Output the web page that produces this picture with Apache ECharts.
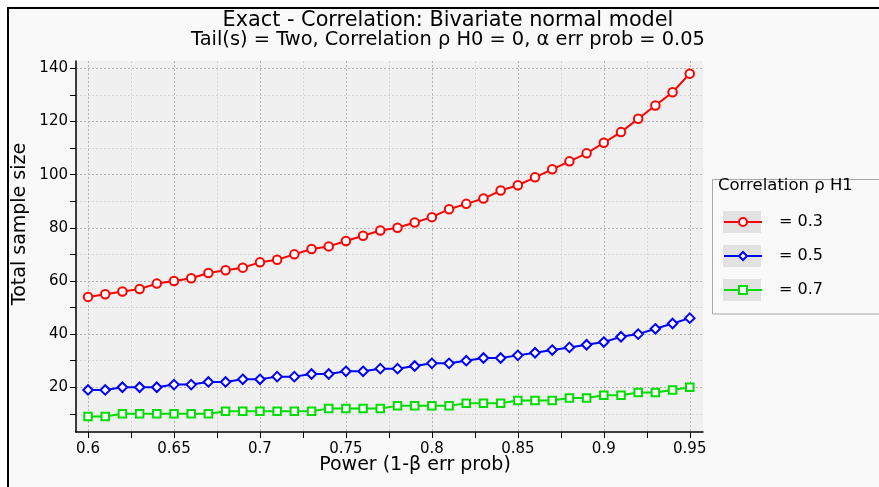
<!DOCTYPE html>
<html>
<head>
<meta charset="utf-8">
<script src="https://cdn.jsdelivr.net/npm/echarts@6/dist/echarts.min.js"></script>
<style>
html,body{margin:0;padding:0;background:#fff;}
#chart{width:879px;height:487px;}
</style>
</head>
<body>
<div id="chart"></div>
<script>
// ---- data ----
var powers = [0.60,0.61,0.62,0.63,0.64,0.65,0.66,0.67,0.68,0.69,0.70,0.71,0.72,0.73,0.74,0.75,0.76,0.77,0.78,0.79,0.80,0.81,0.82,0.83,0.84,0.85,0.86,0.87,0.88,0.89,0.90,0.91,0.92,0.93,0.94,0.95];
var rho03 = [54,55,56,57,59,60,61,63,64,65,67,68,70,72,73,75,77,79,80,82,84,87,89,91,94,96,99,102,105,108,112,116,121,126,131,138];
var rho05 = [19,19,20,20,20,21,21,22,22,23,23,24,24,25,25,26,26,27,27,28,29,29,30,31,31,32,33,34,35,36,37,39,40,42,44,46];
var rho07 = [9,9,10,10,10,10,10,10,11,11,11,11,11,11,12,12,12,12,13,13,13,13,14,14,14,15,15,15,16,16,17,17,18,18,19,20];
var seriesNames = ['= 0.3','= 0.5','= 0.7'];
var xTicks = [0.6,0.625,0.65,0.675,0.7,0.725,0.75,0.775,0.8,0.825,0.85,0.875,0.9,0.925,0.95];
var xLabels = [0.6,0.65,0.7,0.75,0.8,0.85,0.9,0.95];
var yTicks = [10,20,30,40,50,60,70,80,90,100,110,120,130,140];
var yLabels = [20,40,60,80,100,120,140];
var titleText = 'Exact - Correlation: Bivariate normal model';
var subText = 'Tail(s) = Two, Correlation \u03c1 H0 = 0, \u03b1 err prob = 0.05';
var xName = 'Power (1-\u03b2 err prob)';
var yName = 'Total sample size';
var legendTitle = 'Correlation \u03c1 H1';

var FONT = 'DejaVu Sans';
function pairs(vals){ return powers.map(function(p,i){ return [p, vals[i]]; }); }

var chart = echarts.init(document.getElementById('chart'), null, {renderer:'canvas'});

function mkSeries(name, vals, color, symbol, size){
  return {
    name: name, type: 'line', data: pairs(vals),
    symbol: symbol, symbolSize: size, showAllSymbol: true,
    lineStyle: {color: color, width: 2},
    itemStyle: {color: '#ffffff', borderColor: color, borderWidth: 2},
    emphasis: {disabled: true},
    animation: false
  };
}

var option = {
  backgroundColor: '#f9f9f9',
  animation: false,
  title: [{
    text: titleText,
    left: 448, top: 9, textAlign: 'center', padding: 0,
    textStyle: {fontFamily: FONT, fontSize: 20.8, fontWeight: 'normal', color: '#000', lineHeight: 24}
  }, {
    text: subText,
    left: 448, top: 28.5, textAlign: 'center', padding: 0,
    textStyle: {fontFamily: FONT, fontSize: 19.4, fontWeight: 'normal', color: '#000', lineHeight: 22}
  }],
  grid: {left: 76, right: 176, top: 61, bottom: 55, show: true, backgroundColor: '#f0f0f0', borderWidth: 0},
  xAxis: {
    type: 'value', min: 0.593, max: 0.9577,
    axisLine: {show: true, onZero: false, lineStyle: {color: '#000', width: 1.5}},
    axisTick: {show: true, length: 6, customValues: xTicks, lineStyle: {color: '#000'}},
    axisLabel: {customValues: xLabels, margin: 10, color: '#000', fontFamily: FONT, fontSize: 15,
      formatter: function(v){ return String(+v.toFixed(3)); }},
    splitLine: {show: true, lineStyle: {type: [2,2], color: ['#b4b4b4','#d6d6d6'], width: 1}}
  },
  yAxis: {
    type: 'value', min: 3.17, max: 142.75,
    axisLine: {show: true, onZero: false, lineStyle: {color: '#000', width: 1.5}},
    axisTick: {show: true, length: 6, customValues: yTicks, lineStyle: {color: '#000'}},
    axisLabel: {customValues: yLabels, margin: 8, color: '#000', fontFamily: FONT, fontSize: 15},
    splitLine: {show: true, lineStyle: {type: [2,2], color: ['#d6d6d6','#b4b4b4'], width: 1}}
  },
  legend: {
    orient: 'vertical', left: 723, top: 211, padding: 0,
    itemWidth: 38, itemHeight: 10, itemGap: 12,
    selectedMode: false,
    data: seriesNames,
    textStyle: {fontFamily: FONT, fontSize: 16, color: '#000', lineHeight: 22, padding: [0,0,0,12]}
  },
  series: [
    mkSeries(seriesNames[0], rho03, '#ff0000', 'circle', 8.5),
    mkSeries(seriesNames[1], rho05, '#0000ff', 'diamond', 9.5),
    mkSeries(seriesNames[2], rho07, '#00dd00', 'rect', 7.5)
  ],
  graphic: [
    {type:'rect', z:-10, silent:true, shape:{x:0,y:0,width:879,height:7}, style:{fill:'#ffffff'}},
    {type:'rect', z:-10, silent:true, shape:{x:0,y:0,width:7,height:487}, style:{fill:'#ffffff'}},
    {type:'rect', z:-9, silent:true, shape:{x:7,y:7,width:872,height:2}, style:{fill:'#000000'}},
    {type:'rect', z:-9, silent:true, shape:{x:7,y:7,width:2,height:480}, style:{fill:'#000000'}},
    {type:'rect', z:-8, silent:true, shape:{x:712.5,y:179.5,width:200,height:134.5}, style:{fill:'#f9f9f9', stroke:'#a8a8a8', lineWidth:1}},
    {type:'rect', z:-7, silent:true, shape:{x:723,y:211,width:38,height:22}, style:{fill:'#e2e2e2'}},
    {type:'rect', z:-7, silent:true, shape:{x:723,y:245,width:38,height:22}, style:{fill:'#e2e2e2'}},
    {type:'rect', z:-7, silent:true, shape:{x:723,y:279,width:38,height:22}, style:{fill:'#e2e2e2'}},
    {type:'text', silent:true, x:718, y:186, style:{text: legendTitle, font: '16.5px "DejaVu Sans"', fill:'#000', verticalAlign:'middle', align:'left'}},
    {type:'text', silent:true, x:415, y:465, style:{text: xName, font: '19px "DejaVu Sans"', fill:'#000', verticalAlign:'middle', align:'center'}},
    {type:'text', silent:true, x:20, y:224, rotation: Math.PI/2, style:{text: yName, font: '19px "DejaVu Sans"', fill:'#000', verticalAlign:'middle', align:'center'}}
  ]
};
chart.setOption(option);
</script>
</body>
</html>
